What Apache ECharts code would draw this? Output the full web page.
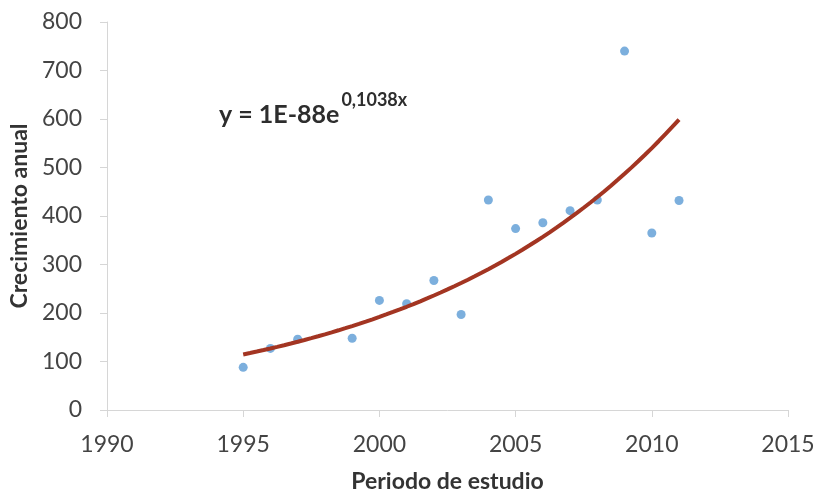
<!DOCTYPE html>
<html>
<head>
<meta charset="utf-8">
<script src="https://cdn.jsdelivr.net/npm/echarts@6/dist/echarts.min.js"></script>
<style>
  html, body { margin: 0; padding: 0; background: #fff; }
  #chart { width: 816px; height: 493px; }
</style>
</head>
<body>
<div id="chart"></div>
<script>
// datos
const years = [1995, 1996, 1997, 1999, 2000, 2001, 2002, 2003, 2004, 2005, 2006, 2007, 2008, 2009, 2010, 2011];
const growth = [88, 127, 146, 148, 226, 219, 267, 197, 433, 374, 386, 411, 433, 740, 365, 432];
const xTicks = [1990, 1995, 2000, 2005, 2010, 2015];
const yTicks = [0, 100, 200, 300, 400, 500, 600, 700, 800];

// linea de tendencia exponencial (minimos cuadrados sobre ln y)
function expFit(xs, ys) {
  const n = xs.length;
  const x0 = xs[0];
  let sx = 0, sy = 0, sxx = 0, sxy = 0;
  xs.forEach((x, i) => {
    const dx = x - x0, ly = Math.log(ys[i]);
    sx += dx; sy += ly; sxx += dx * dx; sxy += dx * ly;
  });
  const b = (n * sxy - sx * sy) / (n * sxx - sx * sx);
  const a = (sy - b * sx) / n;
  const pts = [];
  const first = xs[0], last = xs[xs.length - 1];
  for (let k = 0; k <= 64; k++) {
    const x = first + (last - first) * k / 64;
    pts.push([x, Math.exp(a + b * (x - x0))]);
  }
  return pts;
}
const trend = expFit(years, growth);

const font = 'Lato, "Open Sans", sans-serif';
const myChart = echarts.init(document.getElementById('chart'));
const option = {
  animation: false,
  grid: { left: 107, right: 28, top: 22, bottom: 83, outerBoundsMode: 'none', containLabel: false },
  xAxis: {
    type: 'value',
    min: 1990, max: 2015, interval: 5,
    name: 'Periodo de estudio',
    nameLocation: 'middle',
    nameGap: 60,
    nameTextStyle: { fontFamily: font, fontSize: 23, fontWeight: 'bold', color: '#333' },
    axisLine: { show: true, lineStyle: { color: '#d6d6d6', width: 1 } },
    axisTick: { show: true, length: 7, lineStyle: { color: '#d6d6d6' } },
    axisLabel: {
      fontFamily: font, fontSize: 23, color: '#444', margin: 23,
      formatter: v => xTicks.includes(v) ? String(v) : ''
    },
    splitLine: { show: false }
  },
  yAxis: {
    type: 'value',
    min: 0, max: 800, interval: 100,
    name: 'Crecimiento anual',
    nameLocation: 'middle',
    nameGap: 73,
    nameRotate: 90,
    nameTextStyle: { fontFamily: font, fontSize: 23, fontWeight: 'bold', color: '#333' },
    axisLine: { show: true, lineStyle: { color: '#d6d6d6', width: 1 } },
    axisTick: { show: true, length: 7, lineStyle: { color: '#d6d6d6' } },
    axisLabel: {
      fontFamily: font, fontSize: 23, color: '#444', margin: 25,
      formatter: v => yTicks.includes(v) ? String(v) : ''
    },
    splitLine: { show: false }
  },
  graphic: [{
    type: 'text',
    left: 219,
    top: 91,
    style: {
      text: '{m|y = 1E-88e}{s|0,1038x}',
      rich: {
        m: { fontFamily: font, fontSize: 25, fontWeight: 'bold', fill: '#2d2d2d', verticalAlign: 'bottom', lineHeight: 36 },
        s: { fontFamily: font, fontSize: 18, fontWeight: 'bold', fill: '#2d2d2d', verticalAlign: 'top', lineHeight: 36, padding: [0, 0, 16, 2] }
      }
    }
  }],
  series: [
    {
      name: 'Tendencia',
      type: 'line',
      data: trend,
      showSymbol: false,
      smooth: false,
      lineStyle: { color: '#a33522', width: 4 },
      z: 3
    },
    {
      name: 'Crecimiento',
      type: 'scatter',
      data: years.map((y, i) => [y, growth[i]]),
      symbolSize: 9,
      itemStyle: { color: '#5b9bd5' },
      z: 2
    }
  ]
};
myChart.setOption(option);
</script>
</body>
</html>
